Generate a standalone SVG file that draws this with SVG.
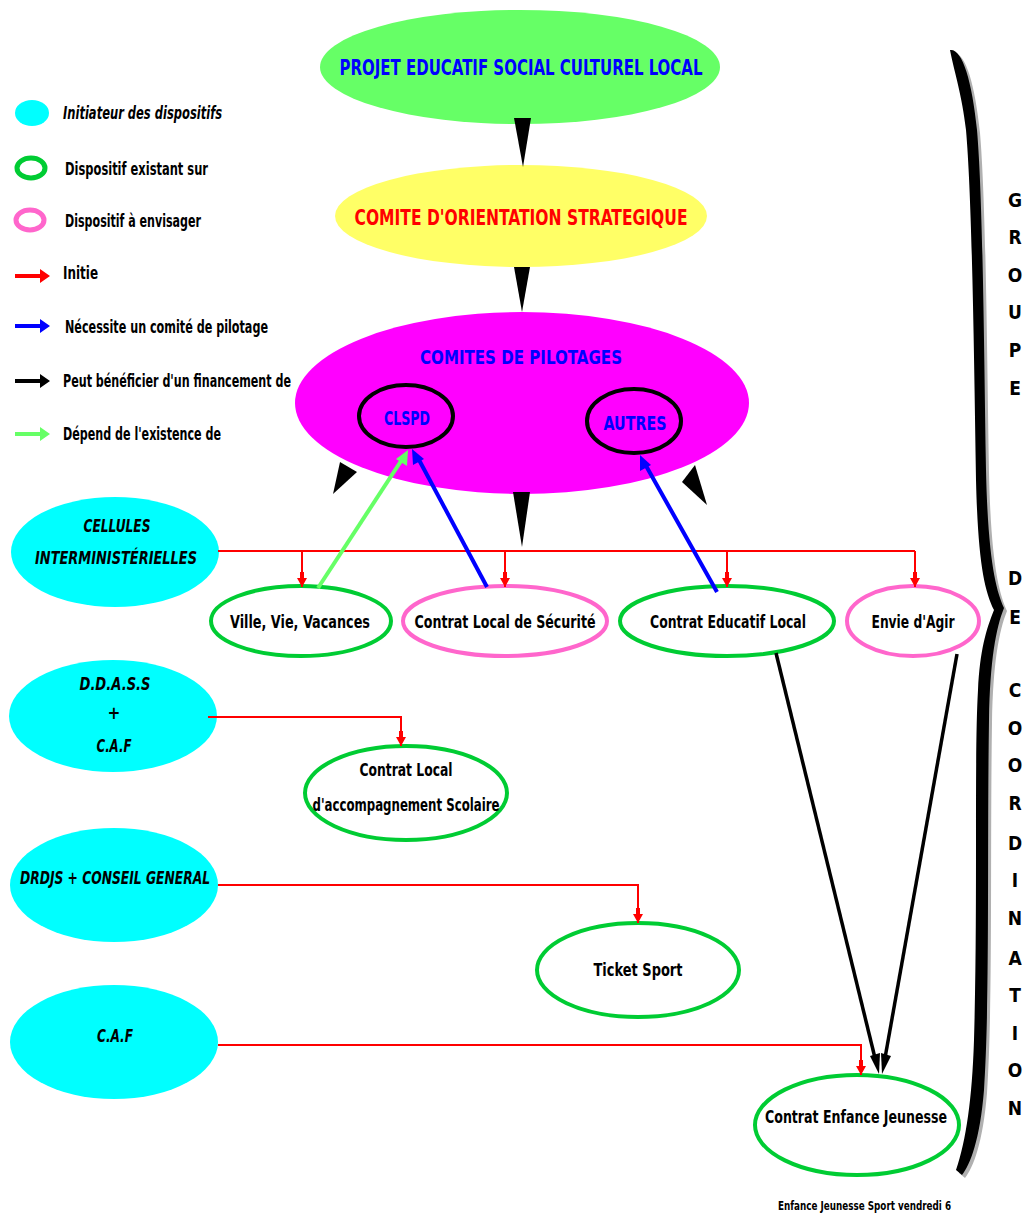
<svg xmlns="http://www.w3.org/2000/svg" width="1032" height="1213" viewBox="0 0 1032 1213">
<defs>
<style>
.t{font-family:"DejaVu Sans Condensed","DejaVu Sans","Liberation Sans",sans-serif;font-weight:bold;}
.lg{font-size:17px;fill:#000;}
.it{font-style:italic;}
.nd{font-size:17px;fill:#000;text-anchor:middle;}
.cy{fill:#00ffff;stroke:none;}
.gr{fill:#fff;stroke:#00cc33;stroke-width:4;}
.pk{fill:#fff;stroke:#ff66cc;stroke-width:4;}
.red{fill:none;stroke:#ff0000;stroke-width:2;}
.vl{font-size:19px;fill:#000;text-anchor:middle;}
</style>
<marker id="ar" viewBox="0 0 15 10" refX="15" refY="5" markerWidth="15" markerHeight="10" markerUnits="userSpaceOnUse" orient="auto">
<path d="M0,3 L6,3 L6,0 L15,5 L6,10 L6,7 L0,7 Z" fill="#ff0000"/>
</marker>
</defs>
<rect width="1032" height="1213" fill="#fff"/>

<g id="legend">
<ellipse cx="32" cy="113" rx="17" ry="13" fill="#00ffff"/>
<text class="t lg it" x="63" y="119" textLength="159" lengthAdjust="spacingAndGlyphs">Initiateur des dispositifs</text>
<ellipse cx="31" cy="168" rx="14" ry="10" fill="none" stroke="#00cc33" stroke-width="5"/>
<text class="t lg" x="65" y="175" textLength="143" lengthAdjust="spacingAndGlyphs">Dispositif existant sur</text>
<ellipse cx="30" cy="220" rx="14" ry="10" fill="none" stroke="#ff66cc" stroke-width="5"/>
<text class="t lg" x="65" y="227" textLength="136" lengthAdjust="spacingAndGlyphs">Dispositif à envisager</text>
<path d="M15,274 L40,274 L40,269 L50,276 L40,283 L40,278 L15,278 Z" fill="#ff0000"/>
<text class="t lg" x="63" y="279" textLength="35" lengthAdjust="spacingAndGlyphs">Initie</text>
<path d="M15,324 L40,324 L40,319 L50,326 L40,333 L40,328 L15,328 Z" fill="#0000ff"/>
<text class="t lg" x="65" y="333" textLength="203" lengthAdjust="spacingAndGlyphs">Nécessite un comité de pilotage</text>
<path d="M15,379 L40,379 L40,374 L50,381 L40,388 L40,383 L15,383 Z" fill="#000"/>
<text class="t lg" x="63" y="387" textLength="228" lengthAdjust="spacingAndGlyphs">Peut bénéficier d'un financement de</text>
<path d="M15,432 L40,432 L40,427 L50,434 L40,441 L40,436 L15,436 Z" fill="#66ff66"/>
<text class="t lg" x="63" y="440" textLength="158" lengthAdjust="spacingAndGlyphs">Dépend de l'existence de</text>
</g>

<g id="projet">
<ellipse cx="520" cy="67" rx="200" ry="57" fill="#66ff66"/>
<text class="t" x="521" y="75" font-size="21" fill="#0000ff" text-anchor="middle" textLength="363" lengthAdjust="spacingAndGlyphs">PROJET EDUCATIF SOCIAL CULTUREL LOCAL</text>
</g>
<g id="cos">
<ellipse cx="521" cy="216" rx="186" ry="51" fill="#ffff66"/>
<text class="t" x="521" y="225" font-size="21" fill="#ff0000" text-anchor="middle" textLength="333" lengthAdjust="spacingAndGlyphs">COMITE D'ORIENTATION STRATEGIQUE</text>
</g>
<g id="comites">
<ellipse cx="522" cy="403" rx="227" ry="91" fill="#ff00ff"/>
<text class="t" x="521" y="364" font-size="19" fill="#0000ff" text-anchor="middle" textLength="202" lengthAdjust="spacingAndGlyphs">COMITES DE PILOTAGES</text>
</g>
<g id="clspd">
<ellipse cx="406" cy="416" rx="47" ry="31" fill="#ff00ff" stroke="#000" stroke-width="4"/>
<text class="t" x="407" y="425" font-size="19" fill="#0000ff" text-anchor="middle" textLength="46" lengthAdjust="spacingAndGlyphs">CLSPD</text>
</g>
<g id="autres">
<ellipse cx="634" cy="421" rx="47" ry="32" fill="#ff00ff" stroke="#000" stroke-width="4"/>
<text class="t" x="635" y="430" font-size="19" fill="#0000ff" text-anchor="middle" textLength="63" lengthAdjust="spacingAndGlyphs">AUTRES</text>
</g>

<g id="cellules">
<ellipse class="cy" cx="115" cy="552" rx="104" ry="55"/>
<text class="t nd it" x="117" y="532" textLength="67" lengthAdjust="spacingAndGlyphs">CELLULES</text>
<text class="t nd it" x="116" y="564" textLength="162" lengthAdjust="spacingAndGlyphs">INTERMINISTÉRIELLES</text>
</g>
<g id="ddass">
<ellipse class="cy" cx="113" cy="716" rx="104" ry="56"/>
<text class="t nd it" x="115" y="690" textLength="71" lengthAdjust="spacingAndGlyphs">D.D.A.S.S</text>
<text class="t nd it" x="114" y="719">+</text>
<text class="t nd it" x="114" y="752" textLength="35" lengthAdjust="spacingAndGlyphs">C.A.F</text>
</g>
<g id="drdjs">
<ellipse class="cy" cx="114" cy="885" rx="104" ry="57"/>
<text class="t nd it" x="115" y="884" textLength="190" lengthAdjust="spacingAndGlyphs">DRDJS + CONSEIL GENERAL</text>
</g>
<g id="caf">
<ellipse class="cy" cx="114" cy="1042" rx="104" ry="57"/>
<text class="t nd it" x="115" y="1042" textLength="36" lengthAdjust="spacingAndGlyphs">C.A.F</text>
</g>

<g id="vvv">
<ellipse class="gr" cx="301" cy="621" rx="90" ry="35"/>
<text class="t nd" x="300" y="628" textLength="140" lengthAdjust="spacingAndGlyphs">Ville, Vie, Vacances</text>
</g>
<g id="cls">
<ellipse class="pk" cx="505" cy="621" rx="102" ry="35"/>
<text class="t nd" x="505" y="628" textLength="181" lengthAdjust="spacingAndGlyphs">Contrat Local de Sécurité</text>
</g>
<g id="cel">
<ellipse class="gr" cx="727" cy="621" rx="107" ry="35"/>
<text class="t nd" x="728" y="628" textLength="156" lengthAdjust="spacingAndGlyphs">Contrat Educatif Local</text>
</g>
<g id="eda">
<ellipse class="pk" cx="913" cy="621" rx="66" ry="35"/>
<text class="t nd" x="913" y="628" textLength="83" lengthAdjust="spacingAndGlyphs">Envie d'Agir</text>
</g>
<g id="clas">
<ellipse class="gr" cx="406" cy="793" rx="101" ry="47"/>
<text class="t nd" x="406" y="776" textLength="93" lengthAdjust="spacingAndGlyphs">Contrat Local</text>
<text class="t nd" x="406" y="811" textLength="187" lengthAdjust="spacingAndGlyphs">d'accompagnement Scolaire</text>
</g>
<g id="ticket">
<ellipse class="gr" cx="638" cy="970" rx="101" ry="47"/>
<text class="t nd" x="638" y="976" textLength="89" lengthAdjust="spacingAndGlyphs">Ticket Sport</text>
</g>
<g id="cej">
<ellipse class="gr" cx="857" cy="1125" rx="102" ry="50"/>
<text class="t nd" x="856" y="1123" textLength="182" lengthAdjust="spacingAndGlyphs">Contrat Enfance Jeunesse</text>
</g>

<g id="connectors">
<polygon points="514,118 531,118 523,167" fill="#000"/>
<polygon points="514,267 530,267 522,312" fill="#000"/>
<polygon points="513,492 530,492 522,547" fill="#000"/>
<polygon points="340,462 357,472 333,494" fill="#000"/>
<polygon points="682,482 695,465 707,505" fill="#000"/>
<path class="red" d="M218,551 L915,551"/>
<path class="red" d="M302,551 L302,587" marker-end="url(#ar)"/>
<path class="red" d="M505,551 L505,587" marker-end="url(#ar)"/>
<path class="red" d="M727,551 L727,587" marker-end="url(#ar)"/>
<path class="red" d="M915,551 L915,587" marker-end="url(#ar)"/>
<path class="red" d="M208,717 L401,717 L401,746" marker-end="url(#ar)"/>
<path class="red" d="M218,885 L638,885 L638,923" marker-end="url(#ar)"/>
<path class="red" d="M218,1045 L861,1045 L861,1075" marker-end="url(#ar)"/>
<line x1="318" y1="588" x2="403" y2="458" stroke="#66ff66" stroke-width="4"/>
<polygon points="408,450 407,466 396,459" fill="#66ff66"/>
<line x1="487" y1="587" x2="418" y2="458" stroke="#0000ff" stroke-width="4"/>
<polygon points="412,449 424,459 413,465" fill="#0000ff"/>
<line x1="717" y1="592" x2="645" y2="464" stroke="#0000ff" stroke-width="4"/>
<polygon points="640,455 651,465 640,471" fill="#0000ff"/>
<line x1="776" y1="653" x2="875" y2="1058" stroke="#000" stroke-width="3.5"/>
<polygon points="879,1074 870,1056 880,1053" fill="#000"/>
<line x1="957" y1="654" x2="885" y2="1058" stroke="#000" stroke-width="3.5"/>
<polygon points="882,1074 881,1053 891,1056" fill="#000"/>
</g>

<g id="brace">
<path transform="translate(3,3)" fill="#b0b0b0" d="M950,50 C962,48 972,80 977,130 C983,200 984,350 986,470 C988,560 996,590 1004,608 C996,628 990,660 989,720 C987,850 990,1000 984,1090 C980,1140 970,1165 962,1175 L956,1170 C966,1140 972,1100 974,1040 C978,900 974,760 978,690 C980,650 986,630 994,610 C984,590 978,560 976,480 C974,350 972,200 966,130 C962,95 955,75 950,50 Z"/>
<path fill="#000" d="M950,50 C962,48 972,80 977,130 C983,200 984,350 986,470 C988,560 996,590 1004,608 C996,628 990,660 989,720 C987,850 990,1000 984,1090 C980,1140 970,1165 962,1175 L956,1170 C966,1140 972,1100 974,1040 C978,900 974,760 978,690 C980,650 986,630 994,610 C984,590 978,560 976,480 C974,350 972,200 966,130 C962,95 955,75 950,50 Z"/>
</g>
<g id="groupe-label">
<text class="t vl" x="1015" y="207">G</text>
<text class="t vl" x="1015" y="244">R</text>
<text class="t vl" x="1015" y="282">O</text>
<text class="t vl" x="1015" y="319">U</text>
<text class="t vl" x="1015" y="357">P</text>
<text class="t vl" x="1015" y="395">E</text>
<text class="t vl" x="1015" y="585">D</text>
<text class="t vl" x="1015" y="624">E</text>
<text class="t vl" x="1015" y="697">C</text>
<text class="t vl" x="1015" y="735">O</text>
<text class="t vl" x="1015" y="772">O</text>
<text class="t vl" x="1015" y="810">R</text>
<text class="t vl" x="1015" y="850">D</text>
<text class="t vl" x="1015" y="887">I</text>
<text class="t vl" x="1015" y="925">N</text>
<text class="t vl" x="1015" y="965">A</text>
<text class="t vl" x="1015" y="1002">T</text>
<text class="t vl" x="1015" y="1040">I</text>
<text class="t vl" x="1015" y="1077">O</text>
<text class="t vl" x="1015" y="1115">N</text>
</g>
<text class="t" x="778" y="1210" font-size="12" fill="#000" font-weight="normal" textLength="173" lengthAdjust="spacingAndGlyphs">Enfance Jeunesse Sport vendredi 6</text>
</svg>
